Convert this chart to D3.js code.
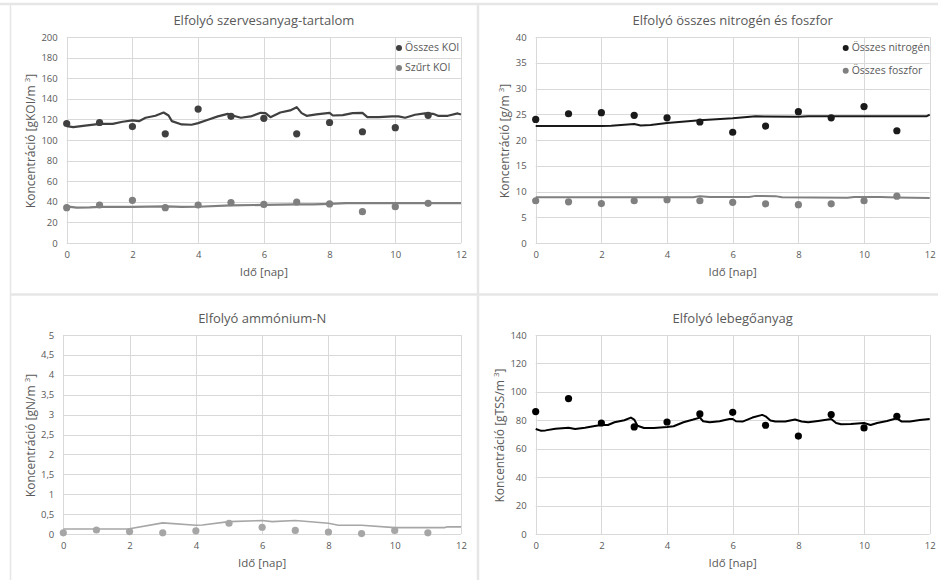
<!DOCTYPE html>
<html>
<head>
<meta charset="utf-8">
<script src="https://cdn.jsdelivr.net/npm/d3@7"></script>
<style>
  html, body { margin: 0; padding: 0; background: #fff; }
  svg { display: block; font-family: "Open Sans", "Noto Sans", sans-serif; }
</style>
</head>
<body>
<svg id="chart" width="938" height="580"></svg>
<script>
// Sampling days (measured points)
const days = [0, 1, 2, 3, 4, 5, 6, 7, 8, 9, 10, 11];

// Organic matter (COD) — measured
const kodTotal = [116, 117, 113, 106, 130, 123, 121, 106, 117, 108, 112, 124];
const kodFiltered = [34.3, 36.9, 41.4, 34.3, 36.9, 39.2, 37.5, 39.8, 37.9, 30.4, 35.3, 38.5];
// Organic matter (COD) — simulated [day, value]
const kodTotalSim = [
  [0, 113.5], [0.2, 112.5], [0.5, 113.8], [1, 115.7], [1.4, 115.7], [1.7, 117.7], [2, 119],
  [2.2, 118.3], [2.4, 121.6], [2.7, 123.5], [2.95, 126.7], [3.1, 123.8], [3.2, 118.3],
  [3.5, 115.1], [3.8, 114.8], [4, 116.4], [4.3, 119.6], [4.6, 122.9], [4.9, 125.4],
  [5.05, 123.8], [5.3, 121.6], [5.6, 122.9], [5.9, 126.4], [6.05, 126.1], [6.2, 122.2],
  [6.5, 126.7], [6.8, 128.7], [7, 131.9], [7.15, 126.1], [7.3, 123.5], [7.6, 124.8],
  [8, 126.4], [8.1, 123.8], [8.4, 124.2], [8.7, 126.1], [9, 126.4], [9.15, 122.2],
  [9.5, 122.2], [9.9, 122.9], [10.1, 122.9], [10.3, 121.6], [10.6, 124.5], [10.9, 125.8],
  [11.15, 125.4], [11.3, 123.5], [11.6, 123.5], [11.9, 125.8], [12, 124.8]
];
const kodFilteredSim = [
  [0, 35.5], [0.3, 34.3], [0.7, 34.5], [1, 35], [2, 35], [3, 35.6], [3.5, 35], [4, 35.2],
  [5, 36.5], [6, 37], [7, 37.5], [7.5, 37.5], [8, 38], [8.5, 38.8], [12, 38.8]
];

// Total nitrogen and phosphorus — measured
const nitrogen = [24, 25.1, 25.3, 24.8, 24.3, 23.5, 21.5, 22.7, 25.5, 24.3, 26.5, 21.8];
const phosphorus = [8.2, 8.0, 7.65, 8.2, 8.4, 8.2, 7.9, 7.6, 7.45, 7.6, 8.2, 9.1];
// Total nitrogen and phosphorus — simulated
const nitrogenSim = [
  [0, 22.7], [2, 22.7], [2.3, 22.75], [3, 23.1], [3.2, 22.8], [3.5, 22.9], [4, 23.3],
  [5, 23.85], [6, 24.2], [6.7, 24.6], [8, 24.5], [8.3, 24.6], [9, 24.6], [11.9, 24.6], [12, 24.95]
];
const phosphorusSim = [
  [0, 8.9], [4.8, 8.9], [5, 9.1], [5.3, 8.95], [6.5, 8.95], [6.7, 9.15], [7.3, 9.1],
  [7.5, 8.9], [9.5, 8.8], [9.7, 8.95], [10.5, 8.95], [11, 8.85], [12, 8.75]
];

// Ammonium-N — measured and simulated
const ammonium = [0.03, 0.1, 0.06, 0.03, 0.08, 0.27, 0.17, 0.09, 0.05, 0.01, 0.09, 0.03];
const ammoniumSim = [
  [0, 0.125], [2, 0.13], [3, 0.28], [4, 0.22], [4.2, 0.225], [5, 0.31], [6, 0.34],
  [6.3, 0.31], [7, 0.34], [8, 0.27], [8.3, 0.22], [9, 0.22], [10, 0.16], [11, 0.16],
  [11.5, 0.16], [11.6, 0.18], [12, 0.18]
];

// Suspended solids — measured and simulated
const tss = [86.1, 95.3, 78.1, 75.3, 78.8, 84.5, 85.6, 76.5, 68.9, 84, 74.6, 82.8];
const tssSim = [
  [0, 73.9], [0.15, 72.7], [0.3, 72.9], [0.6, 74.1], [1, 74.8], [1.2, 73.9], [1.5, 74.8],
  [1.8, 76], [2, 76.7], [2.2, 76.7], [2.4, 78.6], [2.7, 80], [2.9, 81.9], [3.0, 80.5],
  [3.1, 76.2], [3.3, 74.6], [3.6, 74.6], [4, 75.3], [4.2, 75.8], [4.5, 78.6], [4.8, 80.5],
  [5, 81.9], [5.1, 79.3], [5.3, 78.6], [5.6, 79.3], [5.9, 80.9], [6, 80.9], [6.1, 79.3],
  [6.3, 79.1], [6.6, 81.9], [6.9, 83.8], [7, 82.8], [7.15, 79.8], [7.3, 79.1], [7.6, 79.1],
  [7.9, 80.5], [8.1, 79.1], [8.3, 78.6], [8.6, 79.5], [9, 80.9], [9.15, 78.1], [9.3, 77.2],
  [9.6, 77.4], [10, 78.1], [10.2, 76.7], [10.4, 78.1], [10.7, 79.5], [11, 81.4],
  [11.15, 79.1], [11.4, 79.1], [11.7, 80.2], [12, 80.9]
];

// Axis tick values
const xTicks = [0, 2, 4, 6, 8, 10, 12];
const yTicksKoi = d3.range(0, 201, 20);
const yTicksNP = d3.range(0, 41, 5);
const yTicksNH4 = d3.range(0, 5.01, 0.5);
const yTicksTss = d3.range(0, 141, 20);

const svg = d3.select("#chart");
const textColor = "#595959";
const gridColor = "#d9d9d9";
const fmtComma = v => String(+v.toFixed(2)).replace(".", ",");

// Panel frames
svg.append("line").attr("x1", 0).attr("x2", 938).attr("y1", 4).attr("y2", 4)
  .attr("stroke", "#e6e6e6").attr("stroke-width", 2.5);
svg.append("line").attr("x1", 10.5).attr("x2", 10.5).attr("y1", 4).attr("y2", 580)
  .attr("stroke", "#e6e6e6").attr("stroke-width", 1.5);
svg.append("line").attr("x1", 478).attr("x2", 478).attr("y1", 4).attr("y2", 580)
  .attr("stroke", "#e6e6e6").attr("stroke-width", 2.5);
svg.append("line").attr("x1", 10).attr("x2", 938).attr("y1", 294.5).attr("y2", 294.5)
  .attr("stroke", "#e6e6e6").attr("stroke-width", 2.5);

const panels = [
  {
    title: "Elfolyó szervesanyag-tartalom",
    unit: "gKOI/m", left: 66.7, right: 461, top: 37, bottom: 243,
    yMax: 200, yTicks: yTicksKoi, fmt: d => d, yTitleX: 32,
    series: [
      { name: "Összes KOI", pts: kodTotal, sim: kodTotalSim, color: "#404040", width: 2.2 },
      { name: "Szűrt KOI", pts: kodFiltered, sim: kodFilteredSim, color: "#7f7f7f", width: 2.2 }
    ],
    legend: { x: 399, y: 48, dy: 20 }
  },
  {
    title: "Elfolyó összes nitrogén és foszfor",
    unit: "g/m", left: 535.7, right: 929.7, top: 37, bottom: 243,
    yMax: 40, yTicks: yTicksNP, fmt: d => d, yTitleX: 506,
    series: [
      { name: "Összes nitrogén", pts: nitrogen, sim: nitrogenSim, color: "#1a1a1a", width: 2 },
      { name: "Összes foszfor", pts: phosphorus, sim: phosphorusSim, color: "#808080", width: 2 }
    ],
    legend: { x: 845.7, y: 48, dy: 22.7 }
  },
  {
    title: "Elfolyó ammónium-N",
    unit: "gN/m", left: 63.3, right: 461, top: 335, bottom: 534,
    yMax: 5, yTicks: yTicksNH4, fmt: fmtComma, yTitleX: 32,
    series: [
      { name: "NH4-N", pts: ammonium, sim: ammoniumSim, color: "#a6a6a6", width: 1.6 }
    ]
  },
  {
    title: "Elfolyó lebegőanyag",
    unit: "gTSS/m", left: 535.7, right: 929.7, top: 335, bottom: 534,
    yMax: 140, yTicks: yTicksTss, fmt: d => d, yTitleX: 501,
    series: [
      { name: "TSS", pts: tss, sim: tssSim, color: "#000000", width: 2 }
    ]
  }
];

panels.forEach(p => {
  const g = svg.append("g");
  const x = d3.scaleLinear().domain([0, 12]).range([p.left, p.right]);
  const y = d3.scaleLinear().domain([0, p.yMax]).range([p.bottom, p.top]);
  const cx = (p.left + p.right) / 2;
  const cy = (p.top + p.bottom) / 2;

  // Gridlines
  g.append("g").selectAll("line").data(p.yTicks).join("line")
    .attr("x1", p.left).attr("x2", p.right)
    .attr("y1", d => Math.round(y(d)) + 0.5).attr("y2", d => Math.round(y(d)) + 0.5)
    .attr("stroke", gridColor).attr("stroke-width", 1);
  g.append("g").selectAll("line").data(xTicks).join("line")
    .attr("y1", p.top).attr("y2", p.bottom)
    .attr("x1", d => Math.round(x(d)) + 0.5).attr("x2", d => Math.round(x(d)) + 0.5)
    .attr("stroke", gridColor).attr("stroke-width", 1);

  // Axes (labels only, lines drawn as grid)
  const yAxis = g.append("g").attr("transform", `translate(${p.left - 7},0)`)
    .call(d3.axisLeft(y).tickValues(p.yTicks).tickFormat(p.fmt).tickSize(0).tickPadding(2));
  const xAxis = g.append("g").attr("transform", `translate(0,${p.bottom + 6})`)
    .call(d3.axisBottom(x).tickValues(xTicks).tickSize(0).tickPadding(2));
  [yAxis, xAxis].forEach(a => {
    a.select(".domain").remove();
    a.selectAll("text").attr("fill", textColor).attr("font-size", 9.5)
      .attr("font-family", "Open Sans, sans-serif");
  });

  // Titles
  g.append("text").attr("x", cx).attr("y", p.top - 15)
    .attr("text-anchor", "middle").attr("dominant-baseline", "middle")
    .attr("fill", textColor).attr("font-size", 13).text(p.title);
  g.append("text").attr("x", cx).attr("y", p.bottom + 30)
    .attr("text-anchor", "middle").attr("dominant-baseline", "middle")
    .attr("fill", textColor).attr("font-size", 11.5).text("Idő [nap]");
  const yt = g.append("text")
    .attr("transform", `translate(${p.yTitleX},${cy + 1}) rotate(-90)`)
    .attr("text-anchor", "middle").attr("dominant-baseline", "middle")
    .attr("fill", textColor).attr("font-size", 12);
  yt.append("tspan").text(`Koncentráció [${p.unit} `);
  yt.append("tspan").attr("font-size", 8).attr("dy", -4).text("3");
  yt.append("tspan").attr("dy", 4).text("]");

  // Simulated lines and measured points
  const line = d3.line().x(d => x(d[0])).y(d => y(d[1]));
  p.series.forEach(s => {
    g.append("path").datum(s.sim).attr("d", line)
      .attr("fill", "none").attr("stroke", s.color).attr("stroke-width", s.width)
      .attr("stroke-linejoin", "round");
    g.append("g").selectAll("circle").data(s.pts).join("circle")
      .attr("cx", (d, i) => x(days[i])).attr("cy", d => y(d))
      .attr("r", 3.6).attr("fill", s.color);
  });

  // Legend
  if (p.legend) {
    p.series.forEach((s, i) => {
      const ly = p.legend.y + i * p.legend.dy;
      g.append("circle").attr("cx", p.legend.x).attr("cy", ly).attr("r", 3).attr("fill", s.color);
      g.append("text").attr("x", p.legend.x + 6).attr("y", ly)
        .attr("dominant-baseline", "middle").attr("fill", textColor)
        .attr("font-size", 10.5).text(s.name);
    });
  }
});
</script>
</body>
</html>
